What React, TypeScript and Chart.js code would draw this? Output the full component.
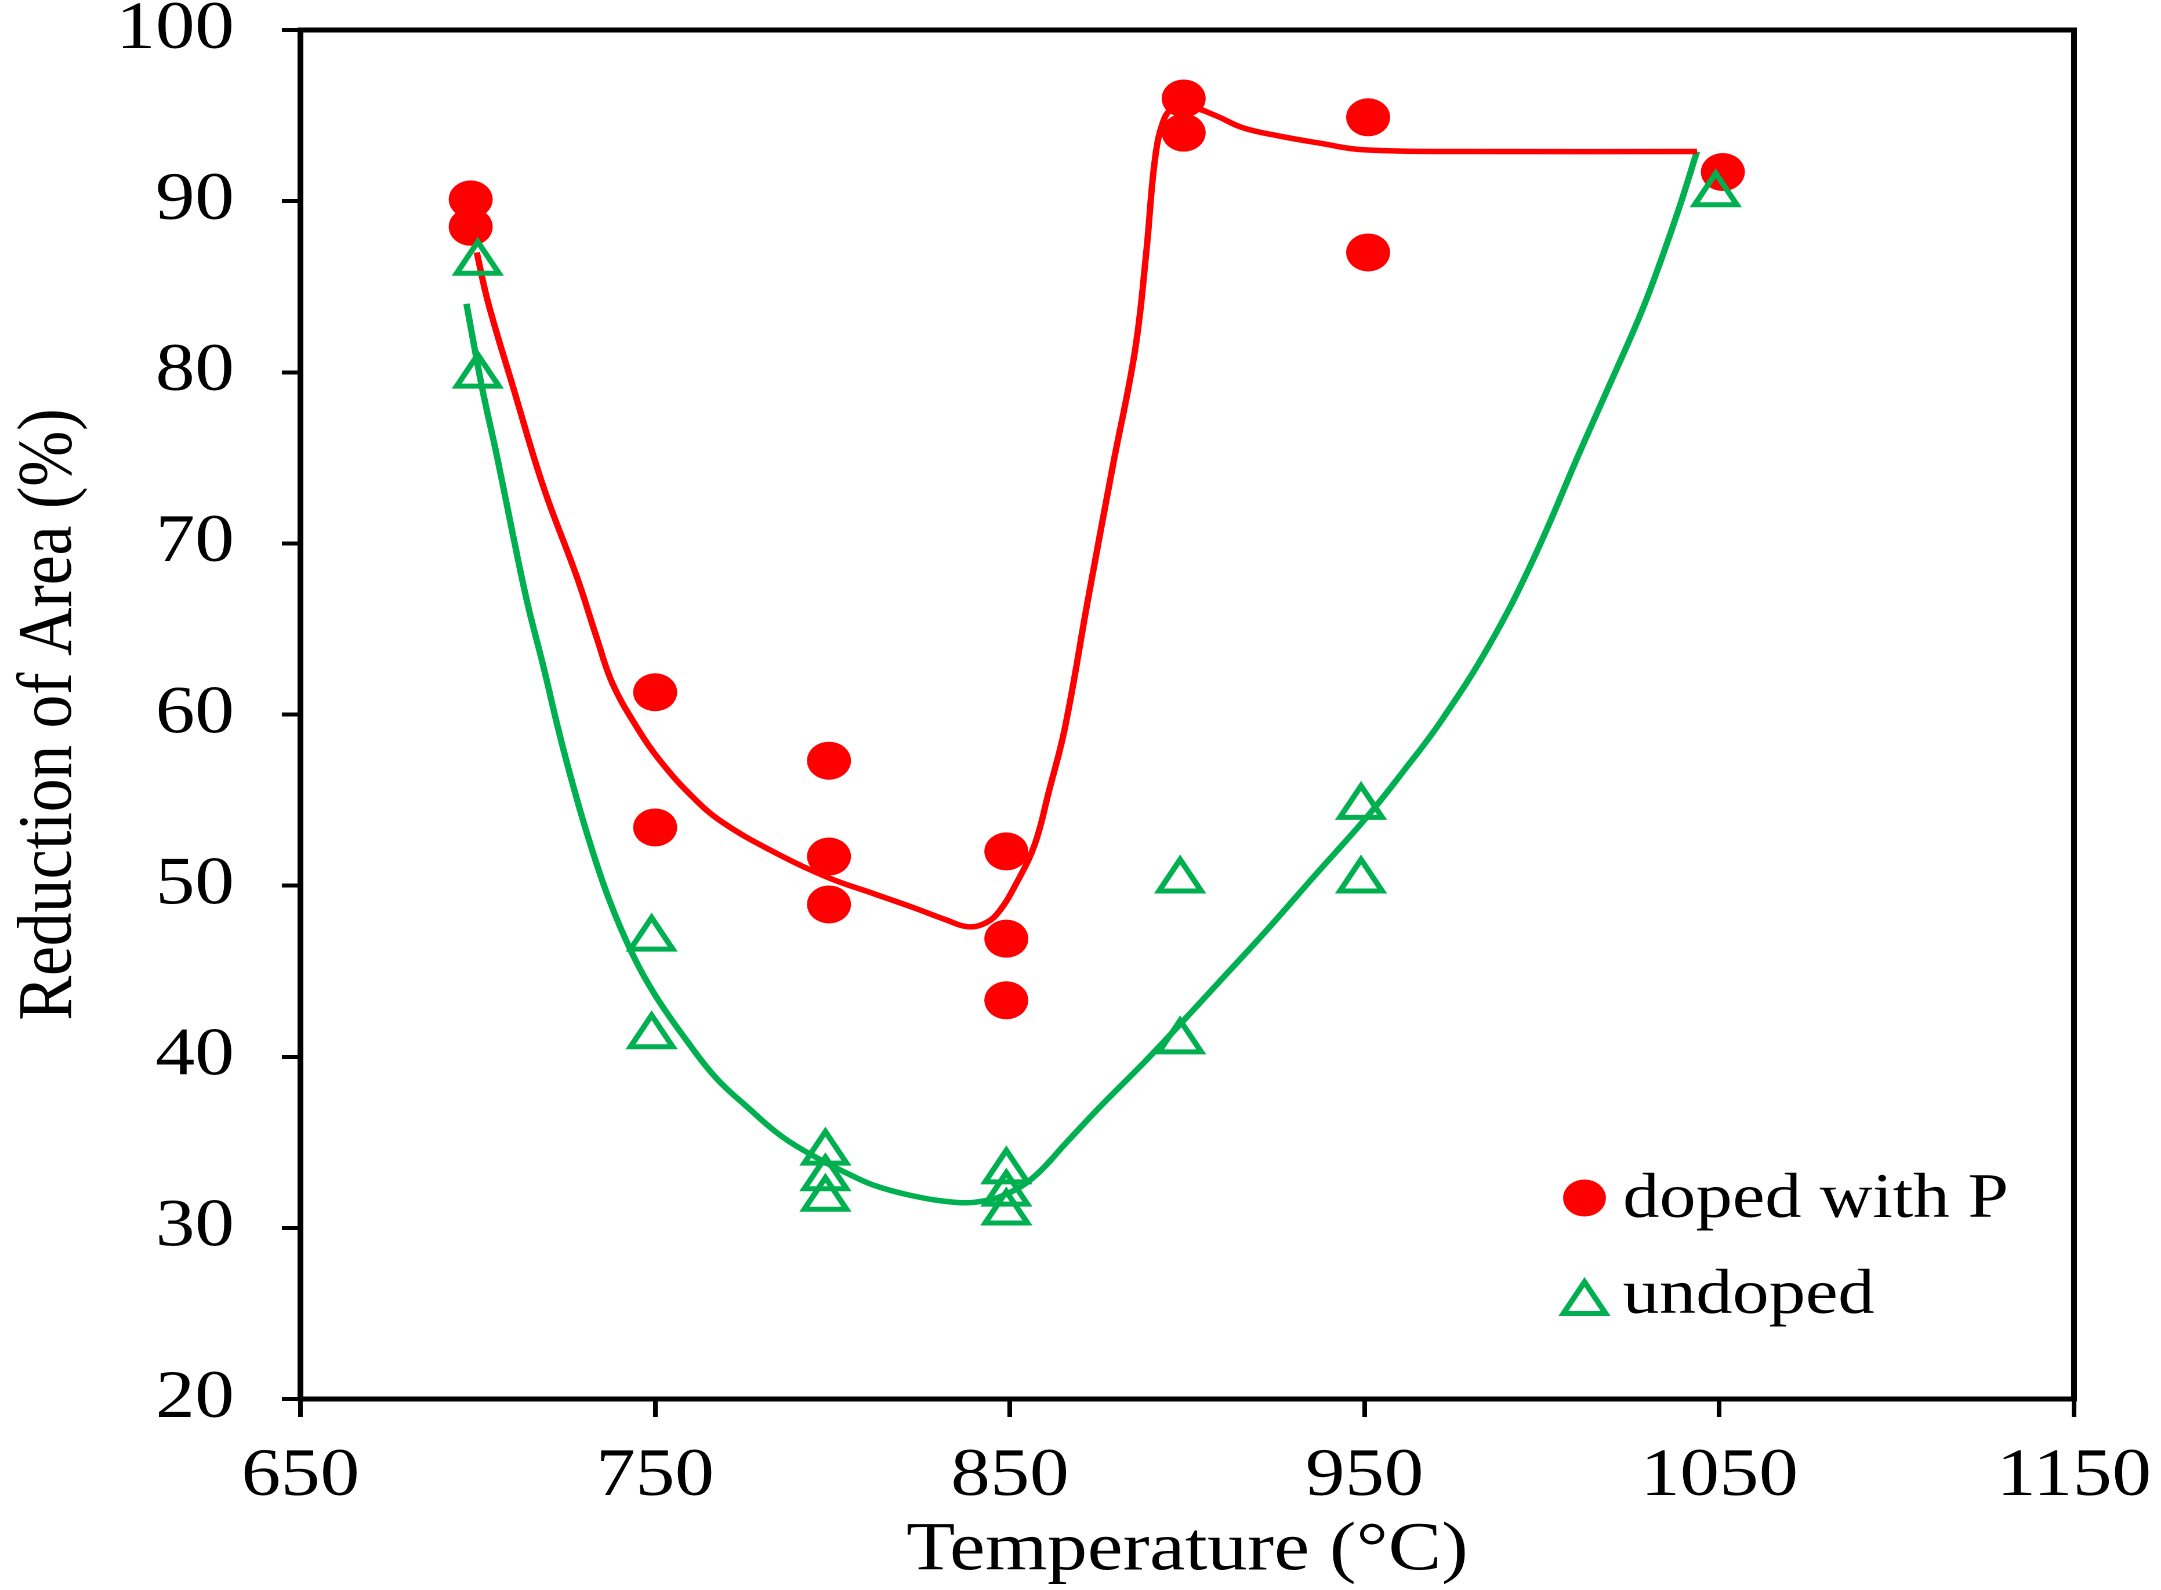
import { useEffect, useRef } from "react";
import { Chart, registerables } from "chart.js";

Chart.register(...registerables);

// the reference picture is stretched sideways, so the chart is drawn narrower and scaled on x
const STRETCH = 1.16;
const PAGE_W = 2161;
const PAGE_H = 1590;
const CANVAS_W = Math.round(PAGE_W / STRETCH);

const PLOT_LEFT = Math.round(300 / STRETCH);
const PLOT_RIGHT = Math.round(2074 / STRETCH);
const PLOT_TOP = 30;
const PLOT_BOTTOM = 1399;

const FONT = "'Liberation Serif', 'Times New Roman', serif";
const RED = "#ff0000";
const GREEN = "#00b050";

// measured points
const seriesNames = ["doped with P", "undoped"];
const dopedTemp = [698, 698, 750, 750, 799, 799, 799, 849, 849, 849, 899, 899, 951, 951, 1051];
const dopedRA = [90.1, 88.5, 61.3, 53.4, 57.3, 51.7, 48.9, 52.0, 46.9, 43.3, 96.0, 94.0, 94.9, 87.0, 91.7];
const undopedTemp = [700, 700, 749, 749, 798, 798, 798, 849, 849, 849, 898, 898, 949, 949, 1049];
const undopedRA = [86.4, 79.8, 46.9, 41.2, 34.4, 32.9, 31.7, 33.3, 32.0, 30.9, 50.3, 40.9, 54.6, 50.3, 90.4];

// hand-drawn trend curves, traced
const dopedFitTemp = [699.7, 703, 710, 718.5, 728, 733.5, 738, 745, 751, 760, 769, 785, 799, 812, 823, 832, 838, 843, 847, 852, 857, 861, 865.6, 872, 879, 885.3, 888.5, 891, 893.5, 896, 901, 908, 915.5, 926, 937, 949.5, 981, 1043.7];
const dopedFitRA = [87.0, 84.0, 79.1, 73.3, 68.0, 64.5, 61.8, 59.2, 57.4, 55.3, 53.7, 51.8, 50.45, 49.5, 48.7, 48.0, 47.6, 47.8, 48.5, 50.2, 52.4, 55.5, 59.3, 66.7, 74.5, 81.3, 87.1, 92.6, 94.8, 95.4, 95.5, 95.0, 94.3, 93.8, 93.4, 93.0, 92.9, 92.9];
const undopedFitTemp = [696.8, 701.2, 705.5, 709.8, 714, 718.5, 722.5, 726, 731, 737, 743.6, 750, 758.7, 767, 776.3, 786, 796.4, 804, 811.5, 822, 834.2, 842, 849.3, 856.9, 866, 876, 888, 898, 910, 922, 936, 951, 961, 971.5, 985, 997.4, 1011, 1020, 1028, 1034, 1039, 1043.7];
const undopedFitRA = [84.0, 79.1, 75.0, 70.6, 66.5, 62.8, 59.3, 56.5, 52.9, 49.2, 46.0, 43.6, 41.0, 38.8, 37.0, 35.3, 34.0, 33.2, 32.5, 31.9, 31.5, 31.55, 32.0, 33.0, 35.0, 37.2, 39.7, 41.9, 44.6, 47.3, 50.6, 54.1, 56.7, 59.6, 64.0, 69.0, 75.5, 79.7, 83.5, 86.8, 89.8, 92.9];

const tempTicks = [650, 750, 850, 950, 1050, 1150];
const raTicks = [20, 30, 40, 50, 60, 70, 80, 90, 100];

const zip = (xs: number[], ys: number[]) => xs.map((x, i) => ({ x, y: ys[i] }));

const framePlugin = {
  id: "frame",
  beforeDatasetsDraw(chart: Chart) {
    const { ctx, chartArea } = chart;
    ctx.save();
    ctx.strokeStyle = "#000";
    ctx.lineWidth = 5;
    ctx.strokeRect(chartArea.left, chartArea.top, chartArea.right - chartArea.left, chartArea.bottom - chartArea.top);
    ctx.restore();
  },
};

const legendPlugin = {
  id: "insideLegend",
  afterDraw(chart: Chart) {
    const { ctx } = chart;
    const markerX = Math.round(1585 / STRETCH);
    const textX = Math.round(1623 / STRETCH);
    ctx.save();
    ctx.font = `63px ${FONT}`;
    ctx.textBaseline = "alphabetic";
    ctx.textAlign = "left";

    // circle
    ctx.beginPath();
    ctx.arc(markerX, 1198, 18.5, 0, Math.PI * 2);
    ctx.fillStyle = RED;
    ctx.fill();
    ctx.fillStyle = "#000";
    ctx.fillText(seriesNames[0], textX, 1217);

    // triangle
    const r = 21;
    const cy = 1303;
    ctx.beginPath();
    for (let k = 0; k < 3; k++) {
      const a = (k * 2 * Math.PI) / 3;
      const px = markerX + Math.sin(a) * r;
      const py = cy - Math.cos(a) * r;
      if (k === 0) ctx.moveTo(px, py);
      else ctx.lineTo(px, py);
    }
    ctx.closePath();
    ctx.strokeStyle = GREEN;
    ctx.lineWidth = 5;
    ctx.stroke();
    ctx.fillText(seriesNames[1], textX, 1313);
    ctx.restore();
  },
};

export default function App() {
  const chartRef = useRef<HTMLCanvasElement>(null);
  const chartInstance = useRef<Chart | null>(null);

  useEffect(() => {
    document.body.style.margin = "0";
    if (!chartRef.current) return;
    if (chartInstance.current) chartInstance.current.destroy();

    const ctx = chartRef.current.getContext("2d");
    if (!ctx) return;

    chartInstance.current = new Chart(ctx, {
      type: "scatter",
      data: {
        datasets: [
          {
            label: seriesNames[0],
            data: zip(dopedTemp, dopedRA),
            showLine: false,
            pointStyle: "circle",
            pointRadius: 19,
            pointBackgroundColor: RED,
            pointBorderWidth: 0,
            order: 1,
          },
          {
            label: seriesNames[1],
            data: zip(undopedTemp, undopedRA),
            showLine: false,
            pointStyle: "triangle",
            pointRadius: 21,
            pointBackgroundColor: "rgba(0,0,0,0)",
            pointBorderColor: GREEN,
            pointBorderWidth: 5,
            order: 0,
          },
          {
            label: "fit doped",
            data: zip(dopedFitTemp, dopedFitRA),
            showLine: true,
            borderColor: RED,
            borderWidth: 5.5,
            pointRadius: 0,
            tension: 0.4,
            order: 2,
          },
          {
            label: "fit undoped",
            data: zip(undopedFitTemp, undopedFitRA),
            showLine: true,
            borderColor: GREEN,
            borderWidth: 5.5,
            pointRadius: 0,
            tension: 0.4,
            order: 3,
          },
        ],
      },
      options: {
        animation: false,
        responsive: false,
        devicePixelRatio: 2,
        layout: {
          padding: { left: 0, top: PLOT_TOP, right: CANVAS_W - PLOT_RIGHT, bottom: 0 },
        },
        plugins: {
          legend: { display: false },
          tooltip: { enabled: false },
        },
        scales: {
          x: {
            type: "linear",
            min: 650,
            max: 1150,
            afterBuildTicks: (s: any) => {
              s.ticks = tempTicks.map((v) => ({ value: v }));
            },
            afterFit: (s: any) => {
              s.height = PAGE_H - PLOT_BOTTOM;
              s.paddingLeft = 0;
              s.paddingRight = 0;
            },
            border: { display: false },
            grid: {
              drawOnChartArea: false,
              drawTicks: true,
              tickLength: 18,
              tickWidth: 4,
              color: "#000",
            },
            ticks: {
              color: "#000",
              font: { family: FONT, size: 68, lineHeight: 1 },
              padding: 26,
              maxRotation: 0,
              autoSkip: false,
              callback: (v: any) => String(v),
            },
            title: {
              display: true,
              text: "Temperature (°C)",
              color: "#000",
              font: { family: FONT, size: 69, lineHeight: 1 },
              padding: { top: 0, bottom: 4 },
            },
          },
          y: {
            type: "linear",
            min: 20,
            max: 100,
            afterBuildTicks: (s: any) => {
              s.ticks = raTicks.map((v) => ({ value: v }));
            },
            afterFit: (s: any) => {
              s.width = PLOT_LEFT;
              s.paddingTop = 0;
              s.paddingBottom = 0;
            },
            border: { display: false },
            grid: {
              drawOnChartArea: false,
              drawTicks: true,
              tickLength: 16,
              tickWidth: 4,
              color: "#000",
            },
            ticks: {
              color: "#000",
              font: { family: FONT, size: 68, lineHeight: 1 },
              padding: 41,
              callback: (v: any) => String(v),
            },
            title: {
              display: true,
              text: "Reduction of Area (%)",
              color: "#000",
              font: { family: FONT, size: 67, lineHeight: 1 },
              padding: { top: 10, bottom: 0 },
            },
          },
        },
      },
      plugins: [framePlugin, legendPlugin],
    });

    return () => {
      if (chartInstance.current) {
        chartInstance.current.destroy();
        chartInstance.current = null;
      }
    };
  }, []);

  return (
    <div style={{ width: PAGE_W, height: PAGE_H, overflow: "hidden", background: "#fff" }}>
      <div
        style={{
          width: CANVAS_W,
          height: PAGE_H,
          transform: `scaleX(${PAGE_W / CANVAS_W})`,
          transformOrigin: "0 0",
        }}
      >
        <canvas ref={chartRef} width={CANVAS_W} height={PAGE_H} />
      </div>
    </div>
  );
}
